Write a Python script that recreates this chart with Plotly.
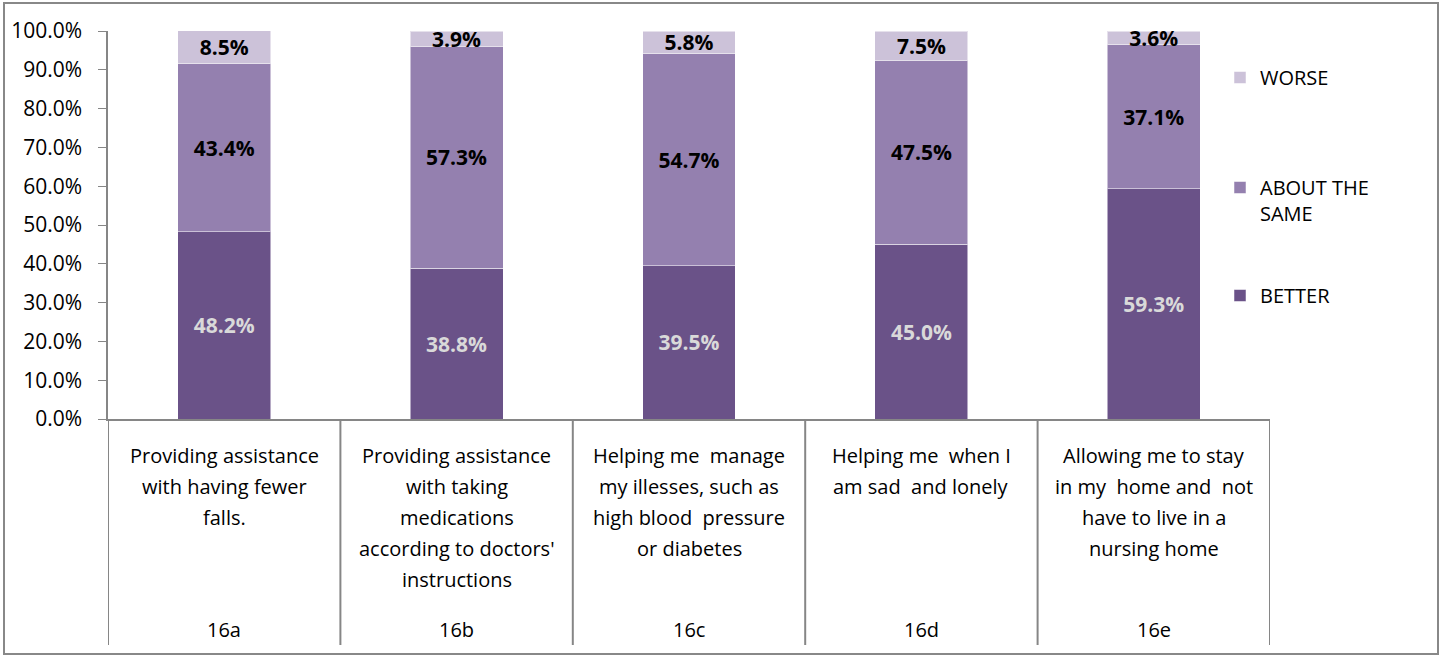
import plotly.graph_objects as go

categories = ["16a", "16b", "16c", "16d", "16e"]
labels = [
    "Providing assistance<br>with having fewer<br>falls.",
    "Providing assistance<br>with taking<br>medications<br>according to doctors'<br>instructions",
    "Helping me  manage<br>my illesses, such as<br>high blood  pressure<br>or diabetes",
    "Helping me  when I<br>am sad  and lonely",
    "Allowing me to stay<br>in my  home and  not<br>have to live in a<br>nursing home",
]
better = [48.2, 38.8, 39.5, 45.0, 59.3]
same = [43.4, 57.3, 54.7, 47.5, 37.1]
worse = [8.5, 3.9, 5.8, 7.5, 3.6]
tick_vals = [0, 10, 20, 30, 40, 50, 60, 70, 80, 90, 100]
tick_text = [f"{v:.1f}%" for v in tick_vals]

W, H = 1443, 655
L, R, T, B = 108, 1270, 31, 419
pw, ph = R - L, B - T

def px_y(y):
    return (B - y) / ph

def px_x(x):
    return (x - L) / pw

FONT = "Open Sans"
FS = 20
C_BETTER = "#6A5288"
C_SAME = "#9480AF"
C_WORSE = "#CCC2D9"

fig = go.Figure()
series = [
    ("BETTER", better, C_BETTER, "#D9D9D9", "legend3"),
    ("ABOUT THE<br>SAME", same, C_SAME, "#000000", "legend2"),
    ("WORSE", worse, C_WORSE, "#000000", "legend"),
]
for name, vals, col, tcol, lg in series:
    fig.add_trace(go.Bar(
        x=categories, y=vals, name=name, legend=lg,
        marker=dict(color=col, line=dict(color="rgba(255,255,255,0.5)", width=1)),
        text=[f"{v:.1f}%" for v in vals], textposition="inside",
        insidetextanchor="middle", constraintext="none", textangle=0,
        textfont=dict(family=FONT, size=21, color=tcol, weight="bold"),
        width=0.4, hoverinfo="skip",
    ))

fig.update_layout(
    barmode="stack", width=W, height=H,
    margin=dict(l=L, r=W - R, t=T, b=H - B, pad=0),
    plot_bgcolor="white", paper_bgcolor="white",
    font=dict(family=FONT, size=FS, color="#000000"),
    xaxis=dict(showticklabels=False, ticks="", showgrid=False, showline=True,
               linecolor="#868686", linewidth=2, range=[-0.5, 4.5]),
    yaxis=dict(range=[0, 100], tickvals=tick_vals, ticktext=tick_text,
               ticks="outside", ticklen=8, tickcolor="#868686", showgrid=False,
               showline=True, linecolor="#868686", linewidth=1.5, ticklabelstandoff=12,
               tickfont=dict(family=FONT, size=21), zeroline=False),
    showlegend=True,
)
leg_common = dict(xanchor="left", yanchor="top", x=px_x(1220), font=dict(family=FONT, size=FS),
                  bgcolor="rgba(0,0,0,0)", valign="top")
fig.update_layout(
    legend=dict(y=px_y(58), **leg_common),
    legend2=dict(y=px_y(168), **leg_common),
    legend3=dict(y=px_y(276), **leg_common),
)

shapes = []
for i in range(len(categories) + 1):
    shapes.append(dict(type="line", xref="x", yref="paper", x0=i - 0.5, x1=i - 0.5,
                       y0=0, y1=px_y(645), line=dict(color="#868686", width=2)))
shapes.append(dict(type="rect", xref="paper", yref="paper", x0=px_x(4), x1=px_x(1438),
                   y0=px_y(654), y1=px_y(3), line=dict(color="#888888", width=2),
                   fillcolor="rgba(0,0,0,0)"))
fig.update_layout(shapes=shapes)

annotations = []
for cat, lab in zip(categories, labels):
    for j, line in enumerate(lab.split("<br>")):
        annotations.append(dict(x=cat, xref="x", yref="paper", y=px_y(455 + 31 * j),
                                text=line, showarrow=False, xanchor="center", yanchor="middle",
                                font=dict(family=FONT, size=FS)))
    annotations.append(dict(x=cat, xref="x", yref="paper", y=px_y(630), text=cat,
                            showarrow=False, xanchor="center", yanchor="middle",
                            font=dict(family=FONT, size=FS)))
fig.update_layout(annotations=annotations)

fig.write_html("out.html")
